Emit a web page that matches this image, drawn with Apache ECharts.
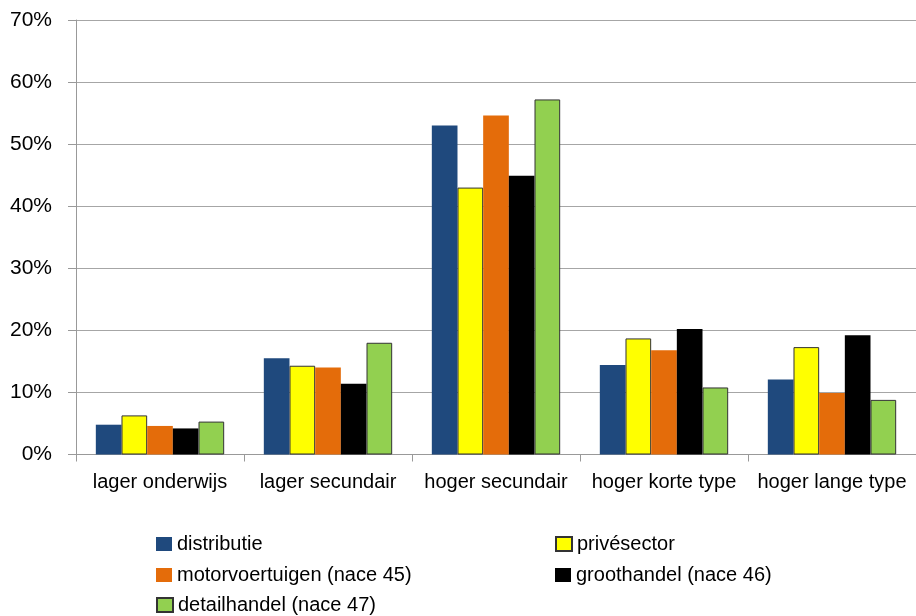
<!DOCTYPE html>
<html>
<head>
<meta charset="utf-8">
<script src="https://cdn.jsdelivr.net/npm/echarts@6/dist/echarts.min.js"></script>
<style>html,body{margin:0;padding:0;background:#fff}#c{width:916px;height:616px}</style>
</head>
<body>
<div id="c"></div>
<script>
var categories = ['lager onderwijs', 'lager secundair', 'hoger secundair', 'hoger korte type', 'hoger lange type'];
var seriesNames = ['distributie', 'privésector', 'motorvoertuigen (nace 45)', 'groothandel (nace 46)', 'detailhandel (nace 47)'];
var distributie = [4.8, 15.5, 53.0, 14.4, 12.1];
var privesector = [6.3, 14.3, 43.0, 18.7, 17.3];
var motorvoertuigen = [4.6, 14.0, 54.6, 16.8, 9.9];
var groothandel = [4.2, 11.4, 44.9, 20.2, 19.2];
var detailhandel = [5.3, 18.0, 57.2, 10.8, 8.8];
var yTicks = [0, 10, 20, 30, 40, 50, 60, 70];

var colors = ['#1F497D', '#FFFF00', '#E46C0A', '#000000', '#92D050'];
var borders = [null, '#333333', null, null, '#333333'];
var values = [distributie, privesector, motorvoertuigen, groothandel, detailhandel];

var font = 'Liberation Sans, Arial, sans-serif';

var series = seriesNames.map(function (n, i) {
  var st = { color: colors[i] };
  if (borders[i]) { st.borderColor = borders[i]; st.borderWidth = 1; }
  return {
    name: n, type: 'bar', data: values[i], itemStyle: st,
    barGap: '0%', barCategoryGap: '23.6%', animation: false
  };
});

// legend layout: [seriesIndex, left, top]
var legendPos = [[0, 156, 534], [2, 156, 565], [4, 156, 595], [1, 555, 534], [3, 555, 565]];
var legends = legendPos.map(function (p) {
  return {
    orient: 'horizontal', left: p[1], top: p[2], padding: 0,
    itemWidth: 16, itemHeight: 14, itemGap: 0, icon: 'rect',
    data: [seriesNames[p[0]]],
    textStyle: { color: '#000', fontFamily: font, fontSize: 20, lineHeight: 20, padding: [0, 0, 0, 0] },
    selectedMode: false
  };
});

var chart = echarts.init(document.getElementById('c'), null, { renderer: 'canvas' });
chart.setOption({
  backgroundColor: '#fff',
  animation: false,
  grid: { left: 76, right: 0, top: 20, bottom: 161.5, containLabel: false, outerBoundsMode: 'none' },
  xAxis: {
    type: 'category', data: categories,
    axisLine: { lineStyle: { color: '#999999', width: 1 } },
    axisTick: { show: true, length: 7, lineStyle: { color: '#999999' }, alignWithLabel: false },
    axisLabel: { color: '#000', fontFamily: font, fontSize: 20, margin: 18, interval: 0, hideOverlap: false }
  },
  yAxis: {
    type: 'value', min: yTicks[0], max: yTicks[yTicks.length - 1], interval: 10,
    axisLine: { show: true, lineStyle: { color: '#999999', width: 1 } },
    axisTick: { show: true, length: 8, lineStyle: { color: '#999999' } },
    splitLine: { show: true, lineStyle: { color: '#A6A6A6', width: 1 } },
    axisLabel: { color: '#000', fontFamily: font, fontSize: 21, margin: 24, formatter: '{value}%' }
  },
  legend: legends,
  series: series
});
</script>
</body>
</html>
